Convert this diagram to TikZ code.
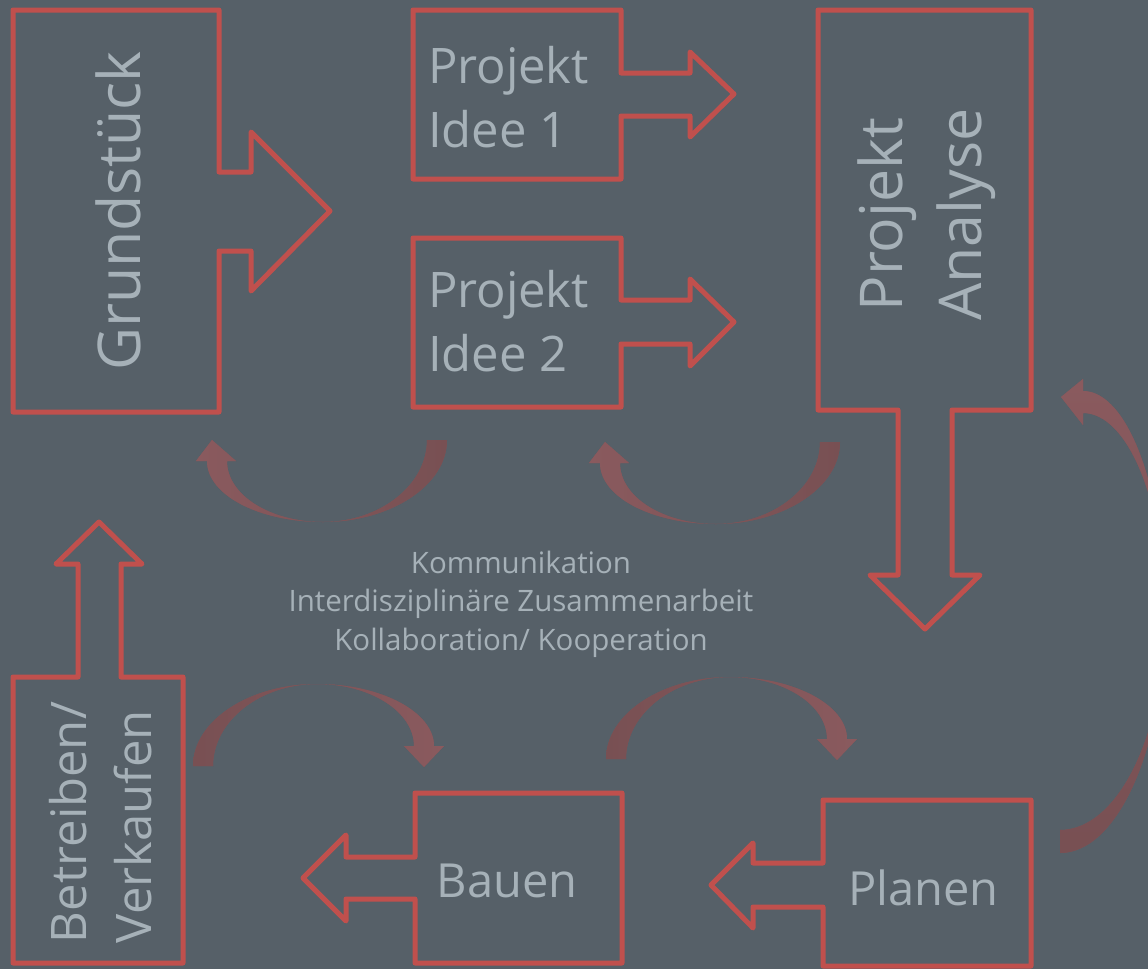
\documentclass[tikz,border=0pt]{standalone}
\usepackage{fontspec}
\setmainfont{Open Sans}
\definecolor{bg}{HTML}{566068}
\definecolor{redline}{HTML}{C0504D}
\definecolor{txtc}{HTML}{A6B1B8}
\definecolor{arclight}{HTML}{8A5A5E}
\definecolor{arcdark}{HTML}{785053}
\definecolor{arcmid}{HTML}{815559}
\tikzset{
  outl/.style={draw=redline, line width=5pt, line join=round},
  lbl/.style={text=txtc, inner sep=0pt, outer sep=0pt},
  big/.style={font=\fontsize{59}{79}\selectfont},
  mid/.style={font=\fontsize{49}{64}\selectfont},
  arcfill/.style={draw=none, preaction={fill=arcmid}},
}
\begin{document}
\begin{tikzpicture}[x=1pt,y=-1pt]
\useasboundingbox (0,0) rectangle (1148,969);
\fill[bg] (0,0) rectangle (1148,969);
\clip (0,0) rectangle (1148,969);

% --- box shapes with block arrows ---
\draw[outl] (13,10) -- (219,10) -- (219,172) -- (251,172) -- (251,132) -- (330,211) -- (251,291) -- (251,251) -- (219,251) -- (219,412) -- (13,412) -- cycle;
\draw[outl] (413,10) -- (621,10) -- (621,73) -- (690,73) -- (690,52) -- (734,94) -- (690,137) -- (690,116) -- (621,116) -- (621,179) -- (413,179) -- cycle;
\draw[outl] (413,238) -- (621,238) -- (621,300) -- (690,300) -- (690,279) -- (734,322) -- (690,366) -- (690,344) -- (621,344) -- (621,407) -- (413,407) -- cycle;
\draw[outl] (818,10) -- (1031,10) -- (1031,410) -- (952,410) -- (952,575) -- (980,575) -- (925,629) -- (870,575) -- (898,575) -- (898,410) -- (818,410) -- cycle;
\draw[outl] (13,963) -- (13,677) -- (78,677) -- (78,564) -- (56,564) -- (99,522) -- (142,564) -- (121,564) -- (121,677) -- (183,677) -- (183,963) -- cycle;
\draw[outl] (415,793) -- (622,793) -- (622,963) -- (415,963) -- (415,899) -- (346,899) -- (346,921) -- (303,878) -- (346,835) -- (346,857) -- (415,857) -- cycle;
\draw[outl] (823,800) -- (1031,800) -- (1031,966) -- (823,966) -- (823,907) -- (753,907) -- (753,928) -- (711,885) -- (753,843) -- (753,863) -- (823,863) -- cycle;

% --- labels ---
\node[lbl, big, rotate=90, anchor=base] (grund) at (140,211) {Grundstück};
\node[lbl, mid, align=left, anchor=west] (idee1) at (428,97.5) {Projekt\\Idee 1};
\node[lbl, mid, align=left, anchor=west] (idee2) at (428,321) {Projekt\\Idee 2};
\node[lbl, big, align=center, rotate=90, anchor=center] (analyse) at (927,214.5) {Projekt\\Analyse};
\node[lbl, font=\fontsize{49}{65}\selectfont, align=left, rotate=90, anchor=west] (betreiben) at (101,943) {Betreiben/\\Verkaufen};
\node[lbl, font=\fontsize{47}{60}\selectfont, anchor=base] (bauen) at (507,897) {Bauen};
\node[lbl, font=\fontsize{47}{60}\selectfont, anchor=base] (planen) at (923.5,905) {Planen};
\node[lbl, font=\fontsize{29.5}{38.5}\selectfont, align=center] (center) at (521,604) {Kommunikation\\Interdisziplinäre Zusammenarbeit\\Kollaboration/ Kooperation};

% --- curved arrows ---
\shade[arcfill, left color=arclight, right color=arcdark]
  (447,440) .. controls (447,485) and (391,522) .. (323,522)
  .. controls (259,522) and (207,495) .. (207,461)
  -- (196,461) -- (212,440) -- (236,461) -- (227,461)
  .. controls (227,495) and (270,522) .. (323,522)
  .. controls (380,522) and (427,485) .. (427,440) -- cycle;
\begin{scope}[shift={(393,2)}]
\shade[arcfill, left color=arclight, right color=arcdark]
  (447,440) .. controls (447,485) and (391,522) .. (323,522)
  .. controls (259,522) and (207,495) .. (207,461)
  -- (196,461) -- (212,440) -- (236,461) -- (227,461)
  .. controls (227,495) and (270,522) .. (323,522)
  .. controls (380,522) and (427,485) .. (427,440) -- cycle;
\end{scope}
\shade[arcfill, left color=arcdark, right color=arclight]
  (193,766) .. controls (193,721) and (249,684) .. (317,684)
  .. controls (381,684) and (434,712) .. (434,746)
  -- (444,746) -- (424,767) -- (404,746) -- (414,746)
  .. controls (414,712) and (371,684) .. (317,684)
  .. controls (260,684) and (213,721) .. (213,766) -- cycle;
\begin{scope}[shift={(413,-7)}]
\shade[arcfill, left color=arcdark, right color=arclight]
  (193,766) .. controls (193,721) and (249,684) .. (317,684)
  .. controls (381,684) and (434,712) .. (434,746)
  -- (444,746) -- (424,767) -- (404,746) -- (414,746)
  .. controls (414,712) and (371,684) .. (317,684)
  .. controls (260,684) and (213,721) .. (213,766) -- cycle;
\end{scope}
\shade[arcfill, top color=arclight, bottom color=arcdark]
  (1060,853) .. controls (1118,853) and (1165,746) .. (1165,615)
  .. controls (1165,491) and (1128,391) .. (1083,391)
  -- (1083,379) -- (1061,397) -- (1083,425) -- (1083,413)
  .. controls (1128,413) and (1165,503) .. (1165,615)
  .. controls (1165,734) and (1118,830) .. (1060,830) -- cycle;
\end{tikzpicture}
\end{document}
